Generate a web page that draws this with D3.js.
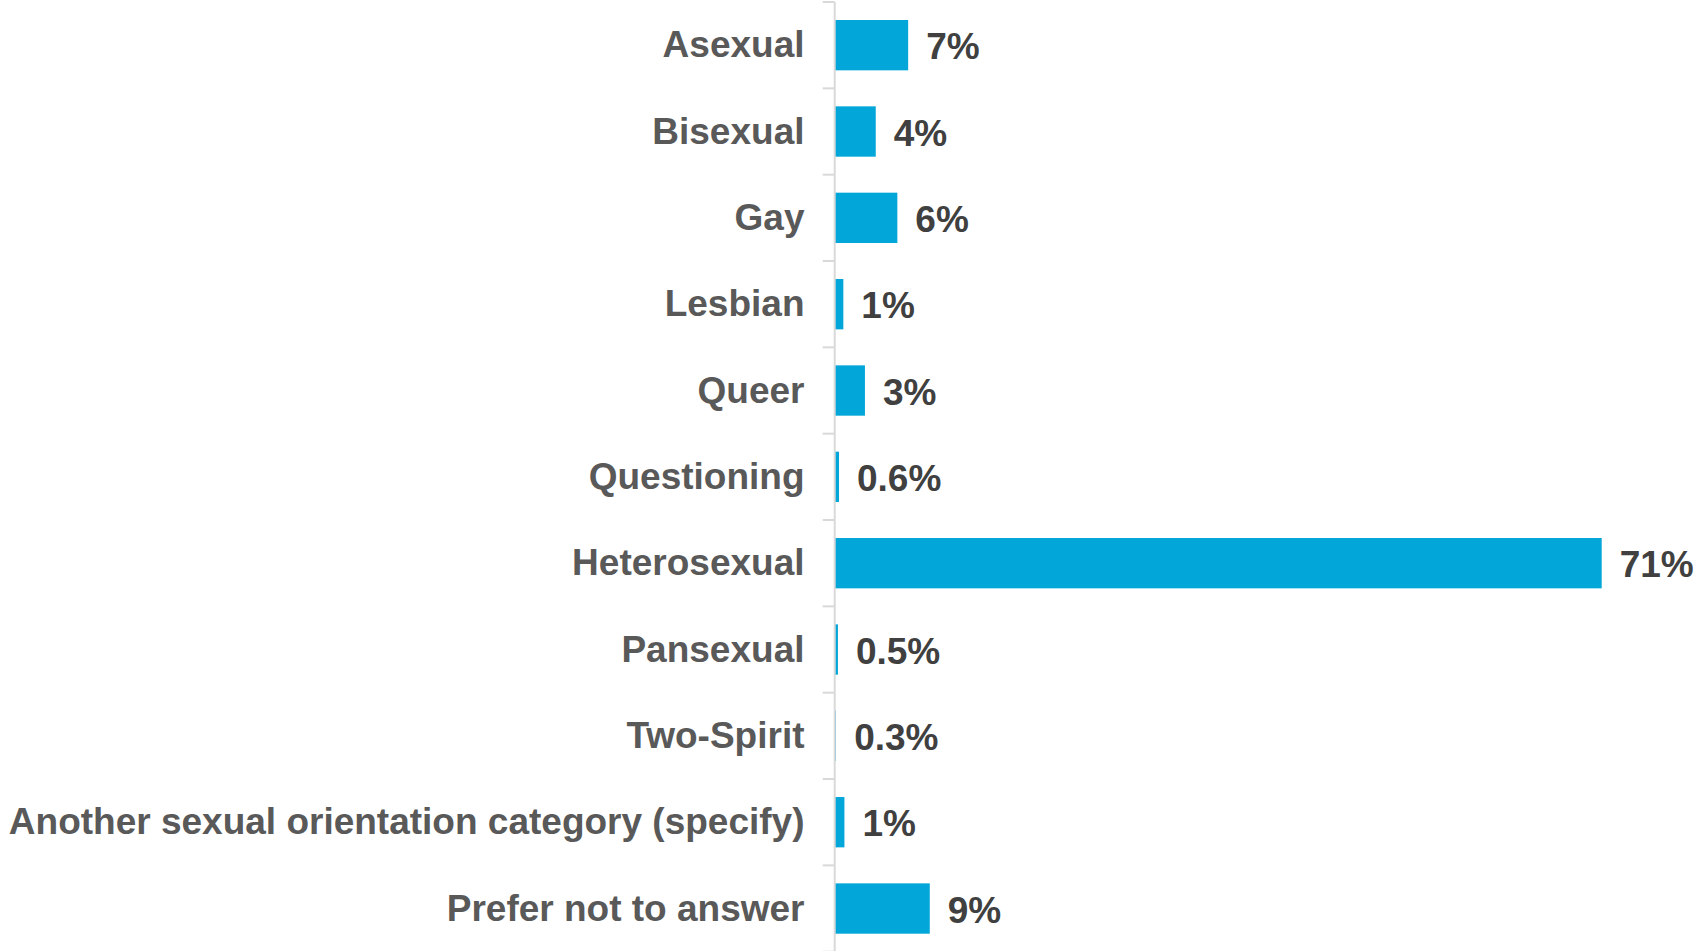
<!DOCTYPE html>
<html>
<head>
<meta charset="utf-8">
<script src="https://cdn.jsdelivr.net/npm/d3@7"></script>
<style>
  html, body { margin: 0; padding: 0; background: #ffffff; }
  svg { display: block; }
</style>
</head>
<body>
<svg id="chart" width="1698" height="951"></svg>
<script>
const categories = ["Asexual", "Bisexual", "Gay", "Lesbian", "Queer", "Questioning",
  "Heterosexual", "Pansexual", "Two-Spirit", "Another sexual orientation category (specify)",
  "Prefer not to answer"];
const values = [6.8, 3.8, 5.8, 0.8, 2.8, 0.4, 71, 0.3, 0.1, 0.9, 8.8];
const valueLabels = ["7%", "4%", "6%", "1%", "3%", "0.6%", "71%", "0.5%", "0.3%", "1%", "9%"];

const W = 1698, H = 951;
const x0 = 834.7, xMaxPx = 1601.7;
const svg = d3.select("#chart");

const x = d3.scaleLinear().domain([0, 71]).range([x0, xMaxPx]);
const y = d3.scaleBand().domain(categories).range([2, 951.7]).paddingInner(0).paddingOuter(0);
const barH = y.bandwidth() * 0.583;
const FS = 37;

// bars
svg.append("g").selectAll("rect")
  .data(categories)
  .join("rect")
  .attr("x", x(0))
  .attr("y", (d) => y(d) + (y.bandwidth() - barH) / 2)
  .attr("width", (d, i) => x(values[i]) - x(0))
  .attr("height", barH)
  .attr("fill", "#03A6D9");

// axis (vertical line with ticks at band boundaries)
const axisG = svg.append("g");
axisG.append("line")
  .attr("x1", x0).attr("x2", x0)
  .attr("y1", y.range()[0]).attr("y2", y.range()[1])
  .attr("stroke", "#d9d9d9").attr("stroke-width", 2);
const boundaries = categories.map(d => y(d)).concat([y.range()[1]]);
axisG.selectAll("line.tick")
  .data(boundaries)
  .join("line")
  .attr("class", "tick")
  .attr("x1", x0 - 12).attr("x2", x0)
  .attr("y1", d => d).attr("y2", d => d)
  .attr("stroke", "#d9d9d9").attr("stroke-width", 2);

// category labels
const labelRight = 804.5;
const catText = svg.append("g").selectAll("text")
  .data(categories)
  .join("text")
  .attr("x", labelRight)
  .attr("y", d => y(d) + y.bandwidth() / 2 + 12)
  .attr("text-anchor", "end")
  .attr("font-family", "'Liberation Sans', Arial, sans-serif")
  .attr("font-weight", "bold")
  .attr("font-size", FS)
  .attr("fill", "#595959")
  .text(d => d);

// compress labels that are too wide to fit
const maxW = labelRight - 4;
catText.each(function () {
  const w = this.getComputedTextLength();
  if (w > maxW) {
    d3.select(this).attr("textLength", maxW).attr("lengthAdjust", "spacingAndGlyphs");
  }
});

// value labels
svg.append("g").selectAll("text")
  .data(categories)
  .join("text")
  .attr("x", (d, i) => Math.max(x(values[i]), x0 + 1.5) + 18)
  .attr("y", d => y(d) + y.bandwidth() / 2 + 14)
  .attr("font-family", "'Liberation Sans', Arial, sans-serif")
  .attr("font-weight", "bold")
  .attr("font-size", FS)
  .attr("fill", "#404040")
  .text((d, i) => valueLabels[i]);
</script>
</body>
</html>
